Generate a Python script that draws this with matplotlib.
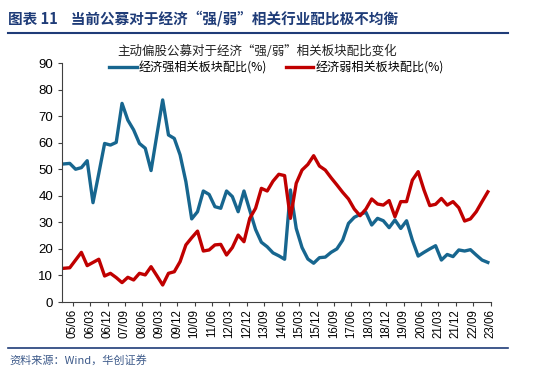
"""Active equity funds: allocation to economy-strong vs economy-weak sectors."""

import matplotlib.pyplot as plt
import numpy as np

plt.rcParams["font.family"] = ["Noto Sans CJK SC", "DejaVu Sans"]

# quarterly allocation (%), first point just before 05/06, last at 23/06
STRONG = [
    52.0, 52.2, 50.0, 50.6, 53.2, 37.4, 48.4, 59.7, 59.1, 60.1,
    74.8, 68.5, 64.8, 59.7, 57.9, 49.5, 62.9, 76.1, 62.9, 61.6,
    55.4, 45.3, 31.3, 34.0, 41.8, 40.5, 35.9, 35.3, 41.8, 39.7,
    34.0, 41.8, 34.5, 27.3, 22.5, 20.8, 18.5, 17.4, 16.1, 42.2,
    27.7, 20.5, 16.2, 14.6, 16.7, 16.9, 18.7, 20.0, 23.3, 29.6,
    31.9, 33.0, 33.8, 29.0, 31.5, 30.6, 28.0, 30.9, 27.7, 30.6,
    23.3, 17.3, 18.7, 20.0, 21.2, 15.8, 17.9, 17.1, 19.6, 19.2,
    19.7, 17.7, 15.8, 14.9,
]
WEAK = [
    12.7, 12.9, 15.8, 18.7, 13.7, 14.9, 16.1, 9.8, 10.8, 9.2,
    7.3, 9.3, 8.3, 10.8, 10.2, 13.3, 9.9, 6.4, 10.8, 11.4,
    15.2, 21.5, 24.2, 26.7, 19.2, 19.6, 21.5, 21.7, 17.7, 20.5,
    25.2, 22.7, 31.5, 35.3, 42.8, 41.8, 45.5, 48.1, 47.6, 31.5,
    44.7, 49.7, 51.8, 55.1, 51.2, 49.7, 46.8, 44.1, 41.3, 38.8,
    35.0, 32.5, 35.0, 38.8, 36.9, 36.5, 38.2, 32.1, 37.8, 37.8,
    45.9, 49.1, 42.2, 36.3, 36.8, 39.0, 36.5, 37.8, 35.5, 30.5,
    31.3, 34.0, 37.8, 41.5,
]
TICK_LABELS = [
    "05/06", "06/03", "06/12", "07/09", "08/06", "09/03", "09/12",
    "10/09", "11/06", "12/03", "12/12", "13/09", "14/06", "15/03",
    "15/12", "16/09", "17/06", "18/03", "18/12", "19/09", "20/06",
    "21/03", "21/12", "22/09", "23/06",
]

BLUE = "#17668f"
RED = "#c00000"
NAVY = "#1f3c78"


def main() -> None:
    fig = plt.figure(figsize=(5.5, 3.76), dpi=100)
    ax = fig.add_axes([0.1127, 0.1968, 0.78, 0.6356])

    x = np.arange(len(STRONG))
    ax.plot(x, STRONG, color=BLUE, lw=2.4, solid_joinstyle="round",
            label="经济强相关板块配比(%)")
    ax.plot(x, WEAK, color=RED, lw=2.4, solid_joinstyle="round",
            label="经济弱相关板块配比(%)")

    ax.set_xlim(-0.34, 73.54)
    ax.set_ylim(0, 90)
    ax.set_yticks(range(0, 91, 10))
    ticks = 1.5 + 3 * np.arange(len(TICK_LABELS))
    ax.set_xticks(ticks)
    ax.set_xticklabels(TICK_LABELS, rotation=90, fontsize=8.3,
                       family="Liberation Sans")
    for lab in ax.get_yticklabels():
        lab.set_fontfamily("Liberation Sans")
        lab.set_fontsize(9.5)
    ax.tick_params(direction="out", length=3, width=0.8, colors="#404040",
                   labelcolor="black")
    ax.tick_params(axis="x", pad=2)
    for side in ("top", "right"):
        ax.spines[side].set_visible(False)
    for side in ("left", "bottom"):
        ax.spines[side].set_color("#404040")
        ax.spines[side].set_linewidth(0.8)

    ax.legend(loc="center", bbox_to_anchor=(0.5, 0.979), ncol=2,
              frameon=False, fontsize=8.7, handlelength=2.3, handletextpad=0.15,
              columnspacing=1.5, borderaxespad=0, borderpad=0)

    fig.text(0.015, 0.952, "图表 11    当前公募对于经济“强/弱”相关行业配比极不均衡",
             fontsize=10.5, fontweight="bold", color=NAVY, va="center")
    fig.add_artist(plt.Line2D([0.015, 0.924], [0.912, 0.912], color=NAVY, lw=1.5))
    fig.text(0.468, 0.862, "主动偏股公募对于经济“强/弱”相关板块配比变化",
             fontsize=9, color="#222222", ha="center", va="center")
    fig.add_artist(plt.Line2D([0.015, 0.924], [0.075, 0.075], color=NAVY, lw=1.2))
    fig.text(0.018, 0.043, "资料来源：Wind，华创证券", fontsize=8,
             style="italic", color="#3d5a8a", va="center")

    fig.savefig("out.png", dpi=100)


if __name__ == "__main__":
    main()
